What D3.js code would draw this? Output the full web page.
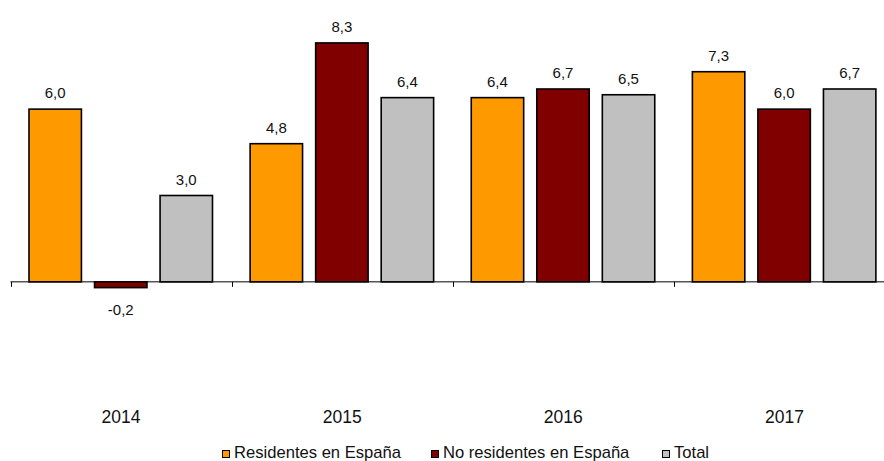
<!DOCTYPE html>
<html><head><meta charset="utf-8">
<script src="https://cdn.jsdelivr.net/npm/d3@7"></script>
<style>
html,body{margin:0;padding:0;background:#fff;}
svg{display:block;font-family:"Liberation Sans",Arial,sans-serif;}
</style></head>
<body>
<svg id="c" width="884" height="461"></svg>
<script>
const categories = ["2014","2015","2016","2017"];
const seriesNames = ["Residentes en España","No residentes en España","Total"];
const residentes = [6.0, 4.8, 6.4, 7.3];
const noResidentes = [-0.2, 8.3, 6.7, 6.0];
const total = [3.0, 6.4, 6.5, 6.7];
const colors = ["#FF9900","#800000","#C0C0C0"];

const seriesValues = [residentes, noResidentes, total];
const svg = d3.select("#c");

const x0 = d3.scaleBand().domain(categories).range([10.5, 895]).paddingInner(0).paddingOuter(0);
const x1 = d3.scaleBand().domain(seriesNames).range([18.5, 202]).paddingInner(0.2).paddingOuter(0);
const y = d3.scaleLinear().domain([-4, 10]).range([397, -6]);
const fmt = v => d3.format(".1f")(v).replace(".", ",").replace("−","-");

// axis line
svg.append("line").attr("x1", x0.range()[0]).attr("x2", 884).attr("y1", y(0)).attr("y2", y(0))
  .attr("stroke", "#000").attr("stroke-width", 1);
// ticks at band boundaries
const bounds = categories.map(c => x0(c)).concat([x0.range()[1]]);
svg.selectAll("line.tick").data(bounds.filter(b => b < 884)).enter().append("line")
  .attr("x1", d => Math.round(d) + 0.5).attr("x2", d => Math.round(d) + 0.5)
  .attr("y1", y(0)).attr("y2", y(0) + 5).attr("stroke", "#000").attr("stroke-width", 1);

const groups = svg.selectAll("g.grp").data(categories).enter().append("g")
  .attr("transform", c => `translate(${x0(c)},0)`);

seriesNames.forEach((s, si) => {
  groups.append("rect")
    .attr("x", x1(s))
    .attr("width", x1.bandwidth())
    .attr("y", (c, i) => y(Math.max(0, seriesValues[si][i])))
    .attr("height", (c, i) => Math.abs(y(seriesValues[si][i]) - y(0)))
    .attr("fill", colors[si]).attr("stroke", "#000").attr("stroke-width", 1.6);
  groups.append("text")
    .attr("x", x1(s) + x1.bandwidth()/2)
    .attr("y", (c, i) => {
      const v = seriesValues[si][i];
      return v >= 0 ? y(v) - 11 : y(v) + 27;
    })
    .attr("text-anchor", "middle").attr("font-size", 15).attr("fill", "#111")
    .text((c, i) => fmt(seriesValues[si][i]));
});

// category labels (low position)
svg.selectAll("text.cat").data(categories).enter().append("text")
  .attr("x", c => x0(c) + x0.bandwidth()/2).attr("y", 423)
  .attr("text-anchor", "middle").attr("font-size", 17.5).attr("fill", "#111").text(c => c);

// legend
const legendX = [222, 431, 662];
const lg = svg.selectAll("g.leg").data(seriesNames).enter().append("g")
  .attr("transform", (d, i) => `translate(${legendX[i]},450)`);
lg.append("rect").attr("x", 0.5).attr("y", 0.5).attr("width", 7).attr("height", 7)
  .attr("fill", (d, i) => colors[i]).attr("stroke", "#000").attr("stroke-width", 1);
lg.append("text").attr("x", 12).attr("y", 8)
  .attr("font-size", 16.6).attr("fill", "#111").text(d => d);
</script>
</body></html>
